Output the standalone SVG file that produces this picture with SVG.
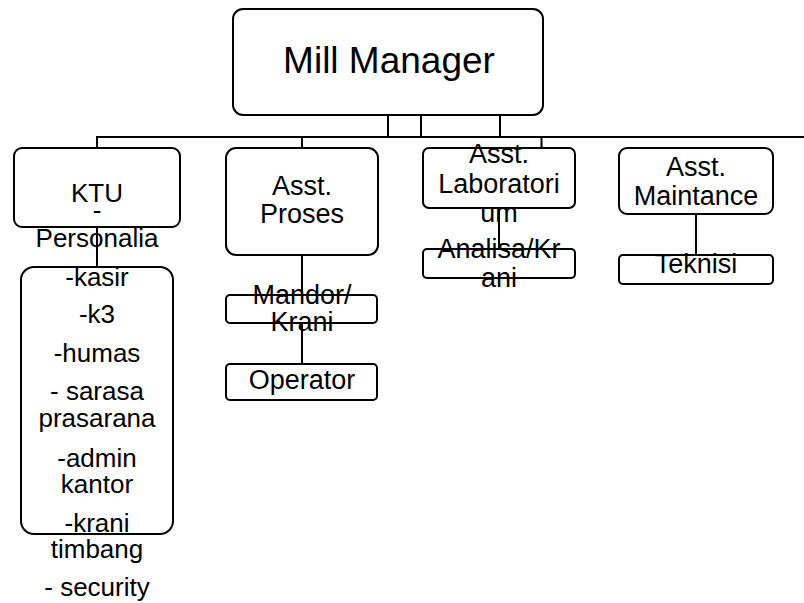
<svg xmlns="http://www.w3.org/2000/svg" width="804" height="603" viewBox="0 0 804 603">
<style>
  .box { fill: none; stroke: #000; stroke-width: 2; }
  .conn { fill: none; stroke: #000; stroke-width: 2; }
  text { font-family: "Liberation Sans", Arial, sans-serif; fill: #000; text-anchor: middle; }
  .t27 { font-size: 27px; }
  .t26 { font-size: 26px; }
  .t37 { font-size: 37px; }
</style>
<rect x="0" y="0" width="804" height="603" fill="#fff"/>
<g id="connectors">
  <path class="conn" d="M388,115 V137 H97 V148"/>
  <path class="conn" d="M421,115 V137 H302 V148"/>
  <path class="conn" d="M500,115 V137 H541.5 V148"/>
  <path class="conn" d="M388,137 H804"/>
  <path class="conn" d="M97,227 V267"/>
  <path class="conn" d="M302,255 V295"/>
  <path class="conn" d="M302,323 V364"/>
  <path class="conn" d="M499,208 V249"/>
  <path class="conn" d="M696,214 V255"/>
</g>
<g id="mill-manager">
  <rect class="box" x="233" y="9" width="310" height="106" rx="10"/>
  <text class="t37" x="389" y="73">Mill Manager</text>
</g>
<g id="ktu">
  <rect class="box" x="14" y="148" width="166" height="79" rx="8"/>
  <text class="t26" x="97" y="202">KTU</text>
  <text class="t26" x="97" y="219">-</text>
  <text class="t26" x="97" y="247">Personalia</text>
  <text class="t26" x="97" y="286">-kasir</text>
  <text class="t26" x="97" y="323">-k3</text>
  <text class="t26" x="97" y="362">-humas</text>
  <text class="t26" x="97" y="400">- sarasa</text>
  <text class="t26" x="97" y="427">prasarana</text>
  <text class="t26" x="97" y="467">-admin</text>
  <text class="t26" x="97" y="493">kantor</text>
  <text class="t26" x="97" y="532">-krani</text>
  <text class="t26" x="97" y="558">timbang</text>
  <text class="t26" x="97" y="596">- security</text>
</g>
<g id="ktu-staff">
  <rect class="box" x="21" y="267" width="152" height="267" rx="13"/>
</g>
<g id="asst-proses">
  <rect class="box" x="226" y="148" width="152" height="107" rx="10"/>
  <text class="t27" x="302" y="195">Asst.</text>
  <text class="t27" x="302" y="223">Proses</text>
</g>
<g id="mandor-krani">
  <rect class="box" x="226" y="295" width="151" height="28" rx="4"/>
  <text class="t27" x="302" y="304">Mandor/</text>
  <text class="t27" x="302" y="331">Krani</text>
</g>
<g id="operator">
  <rect class="box" x="226" y="364" width="151" height="36" rx="4"/>
  <text class="t27" x="302" y="389">Operator</text>
</g>
<g id="asst-laboratorium">
  <rect class="box" x="423" y="148" width="152" height="60" rx="6"/>
  <text class="t27" x="499" y="163">Asst.</text>
  <text class="t27" x="499" y="193">Laboratori</text>
  <text class="t27" x="499" y="222">um</text>
</g>
<g id="analisa-krani">
  <rect class="box" x="423" y="249" width="152" height="29" rx="4"/>
  <text class="t27" x="499" y="258">Analisa/Kr</text>
  <text class="t27" x="499" y="287">ani</text>
</g>
<g id="asst-maintance">
  <rect class="box" x="619" y="148" width="154" height="66" rx="8"/>
  <text class="t27" x="696" y="176">Asst.</text>
  <text class="t27" x="696" y="205">Maintance</text>
</g>
<g id="teknisi">
  <rect class="box" x="619" y="255" width="154" height="29" rx="4"/>
  <text class="t27" x="696" y="273">Teknisi</text>
</g>
</svg>
